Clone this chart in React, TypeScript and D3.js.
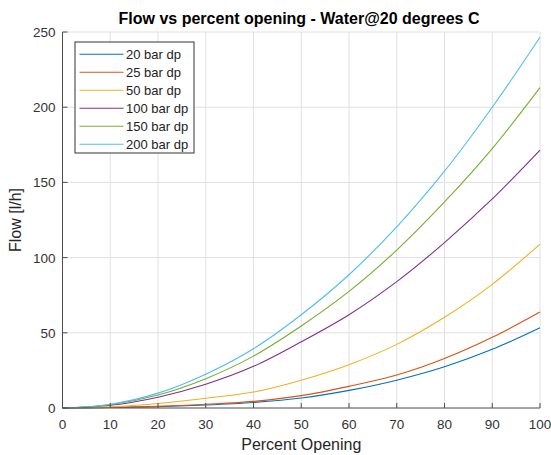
import React from "react";
import * as d3 from "d3";

// percent opening (x axis)
const opening = [0, 10, 20, 30, 40, 50, 60, 70, 80, 90, 100];

// flow in l/h, one array per pressure drop
const flow20 = [0, 0.3, 0.9, 2.0, 3.7, 6.6, 11.7, 18.5, 27.4, 39, 53.4];
const flow25 = [0, 0.4, 1.1, 2.5, 4.4, 8.2, 14.4, 21.9, 32.9, 47, 63.8];
const flow50 = [0, 0.7, 3.0, 6.5, 10.6, 18.5, 28.8, 42.3, 60.3, 82.2, 109];
const flow100 = [0, 1.8, 7.2, 15.8, 27.7, 44, 62, 84, 110, 139, 171.5];
const flow150 = [0, 2.2, 8.6, 19.5, 34.5, 54.5, 77.5, 105, 137, 172.5, 213];
const flow200 = [0, 2.5, 9.9, 22.5, 39.4, 62, 88.6, 120.5, 157.5, 200, 246.5];

const seriesNames = ["20 bar dp", "25 bar dp", "50 bar dp", "100 bar dp", "150 bar dp", "200 bar dp"];
const seriesValues = [flow20, flow25, flow50, flow100, flow150, flow200];
const colors = ["#0072BD", "#D95319", "#EDB120", "#7E2F8E", "#77AC30", "#4DBEEE"];

const xTicks = [0, 10, 20, 30, 40, 50, 60, 70, 80, 90, 100];
const yTicks = [0, 50, 100, 150, 200, 250];

const W = 551;
const H = 455;
const margin = { top: 32, right: 11, bottom: 47, left: 62.5 };
const font = "Liberation Sans, Arial, Helvetica, sans-serif";

const App: React.FC = () => {
  const x = d3.scaleLinear().domain([0, 100]).range([margin.left, W - margin.right]);
  const y = d3.scaleLinear().domain([0, 250]).range([H - margin.bottom, margin.top]);

  const line = d3
    .line<number>()
    .x((_, i) => x(opening[i]))
    .y((d) => y(d))
    .curve(d3.curveCatmullRom.alpha(0.5));

  const x0 = x(0);
  const x1 = x(100);
  const y0 = y(0);
  const y1 = y(250);
  const tickLen = 5;
  const axisColor = "#4d4d4d";

  return (
    <svg
      width={W}
      height={H}
      style={{ position: "absolute", left: 0, top: 0, background: "#fff", fontFamily: font }}
    >
      <rect x={0} y={0} width={W} height={H} fill="#fff" />
      {/* grid */}
      <g stroke="#e0e0e0" strokeWidth={1}>
        {xTicks.slice(1).map((t) => (
          <line key={"gx" + t} x1={x(t)} x2={x(t)} y1={y0} y2={y1} />
        ))}
        {yTicks.slice(1).map((t) => (
          <line key={"gy" + t} x1={x0} x2={x1} y1={y(t)} y2={y(t)} />
        ))}
      </g>

      {/* series */}
      <g fill="none" strokeWidth={1.1}>
        {seriesValues.map((vals, i) => (
          <path key={seriesNames[i]} d={line(vals) ?? ""} stroke={colors[i]} />
        ))}
      </g>

      {/* axes */}
      <g stroke={axisColor} strokeWidth={1}>
        <line x1={x0} x2={x0} y1={y0} y2={y1} />
        <line x1={x0} x2={x1} y1={y0} y2={y0} />
        {xTicks.map((t) => (
          <line key={"tx" + t} x1={x(t)} x2={x(t)} y1={y0} y2={y0 - tickLen} />
        ))}
        {yTicks.map((t) => (
          <line key={"ty" + t} x1={x0} x2={x0 + tickLen} y1={y(t)} y2={y(t)} />
        ))}
      </g>

      <g fontSize={13.5} fill="#333">
        {xTicks.map((t) => (
          <text key={"lx" + t} x={x(t)} y={y0 + 21} textAnchor="middle">
            {t}
          </text>
        ))}
        {yTicks.map((t) => (
          <text key={"ly" + t} x={x0 - 7} y={y(t) + 5} textAnchor="end">
            {t}
          </text>
        ))}
      </g>

      <text x={(x0 + x1) / 2} y={450} textAnchor="middle" fontSize={16} fill="#262626">
        Percent Opening
      </text>
      <text
        transform={`translate(21,${(y0 + y1) / 2}) rotate(-90)`}
        textAnchor="middle"
        fontSize={16}
        fill="#262626"
      >
        Flow [l/h]
      </text>
      <text x={299} y={24} textAnchor="middle" fontSize={16} fontWeight="bold" fill="#000">
        Flow vs percent opening - Water@20 degrees C
      </text>

      {/* legend */}
      <g transform="translate(75,42)">
        <rect x={0} y={0} width={119} height={111} fill="#fff" stroke="#333" strokeWidth={1} />
        {seriesNames.map((name, i) => (
          <g key={name} transform={`translate(0,${12.3 + i * 18})`}>
            <line x1={4.5} x2={48.5} y1={0} y2={0} stroke={colors[i]} strokeWidth={1.1} />
            <text x={51} y={4.8} fontSize={13} fill="#222">
              {name}
            </text>
          </g>
        ))}
      </g>
    </svg>
  );
};

export default App;
